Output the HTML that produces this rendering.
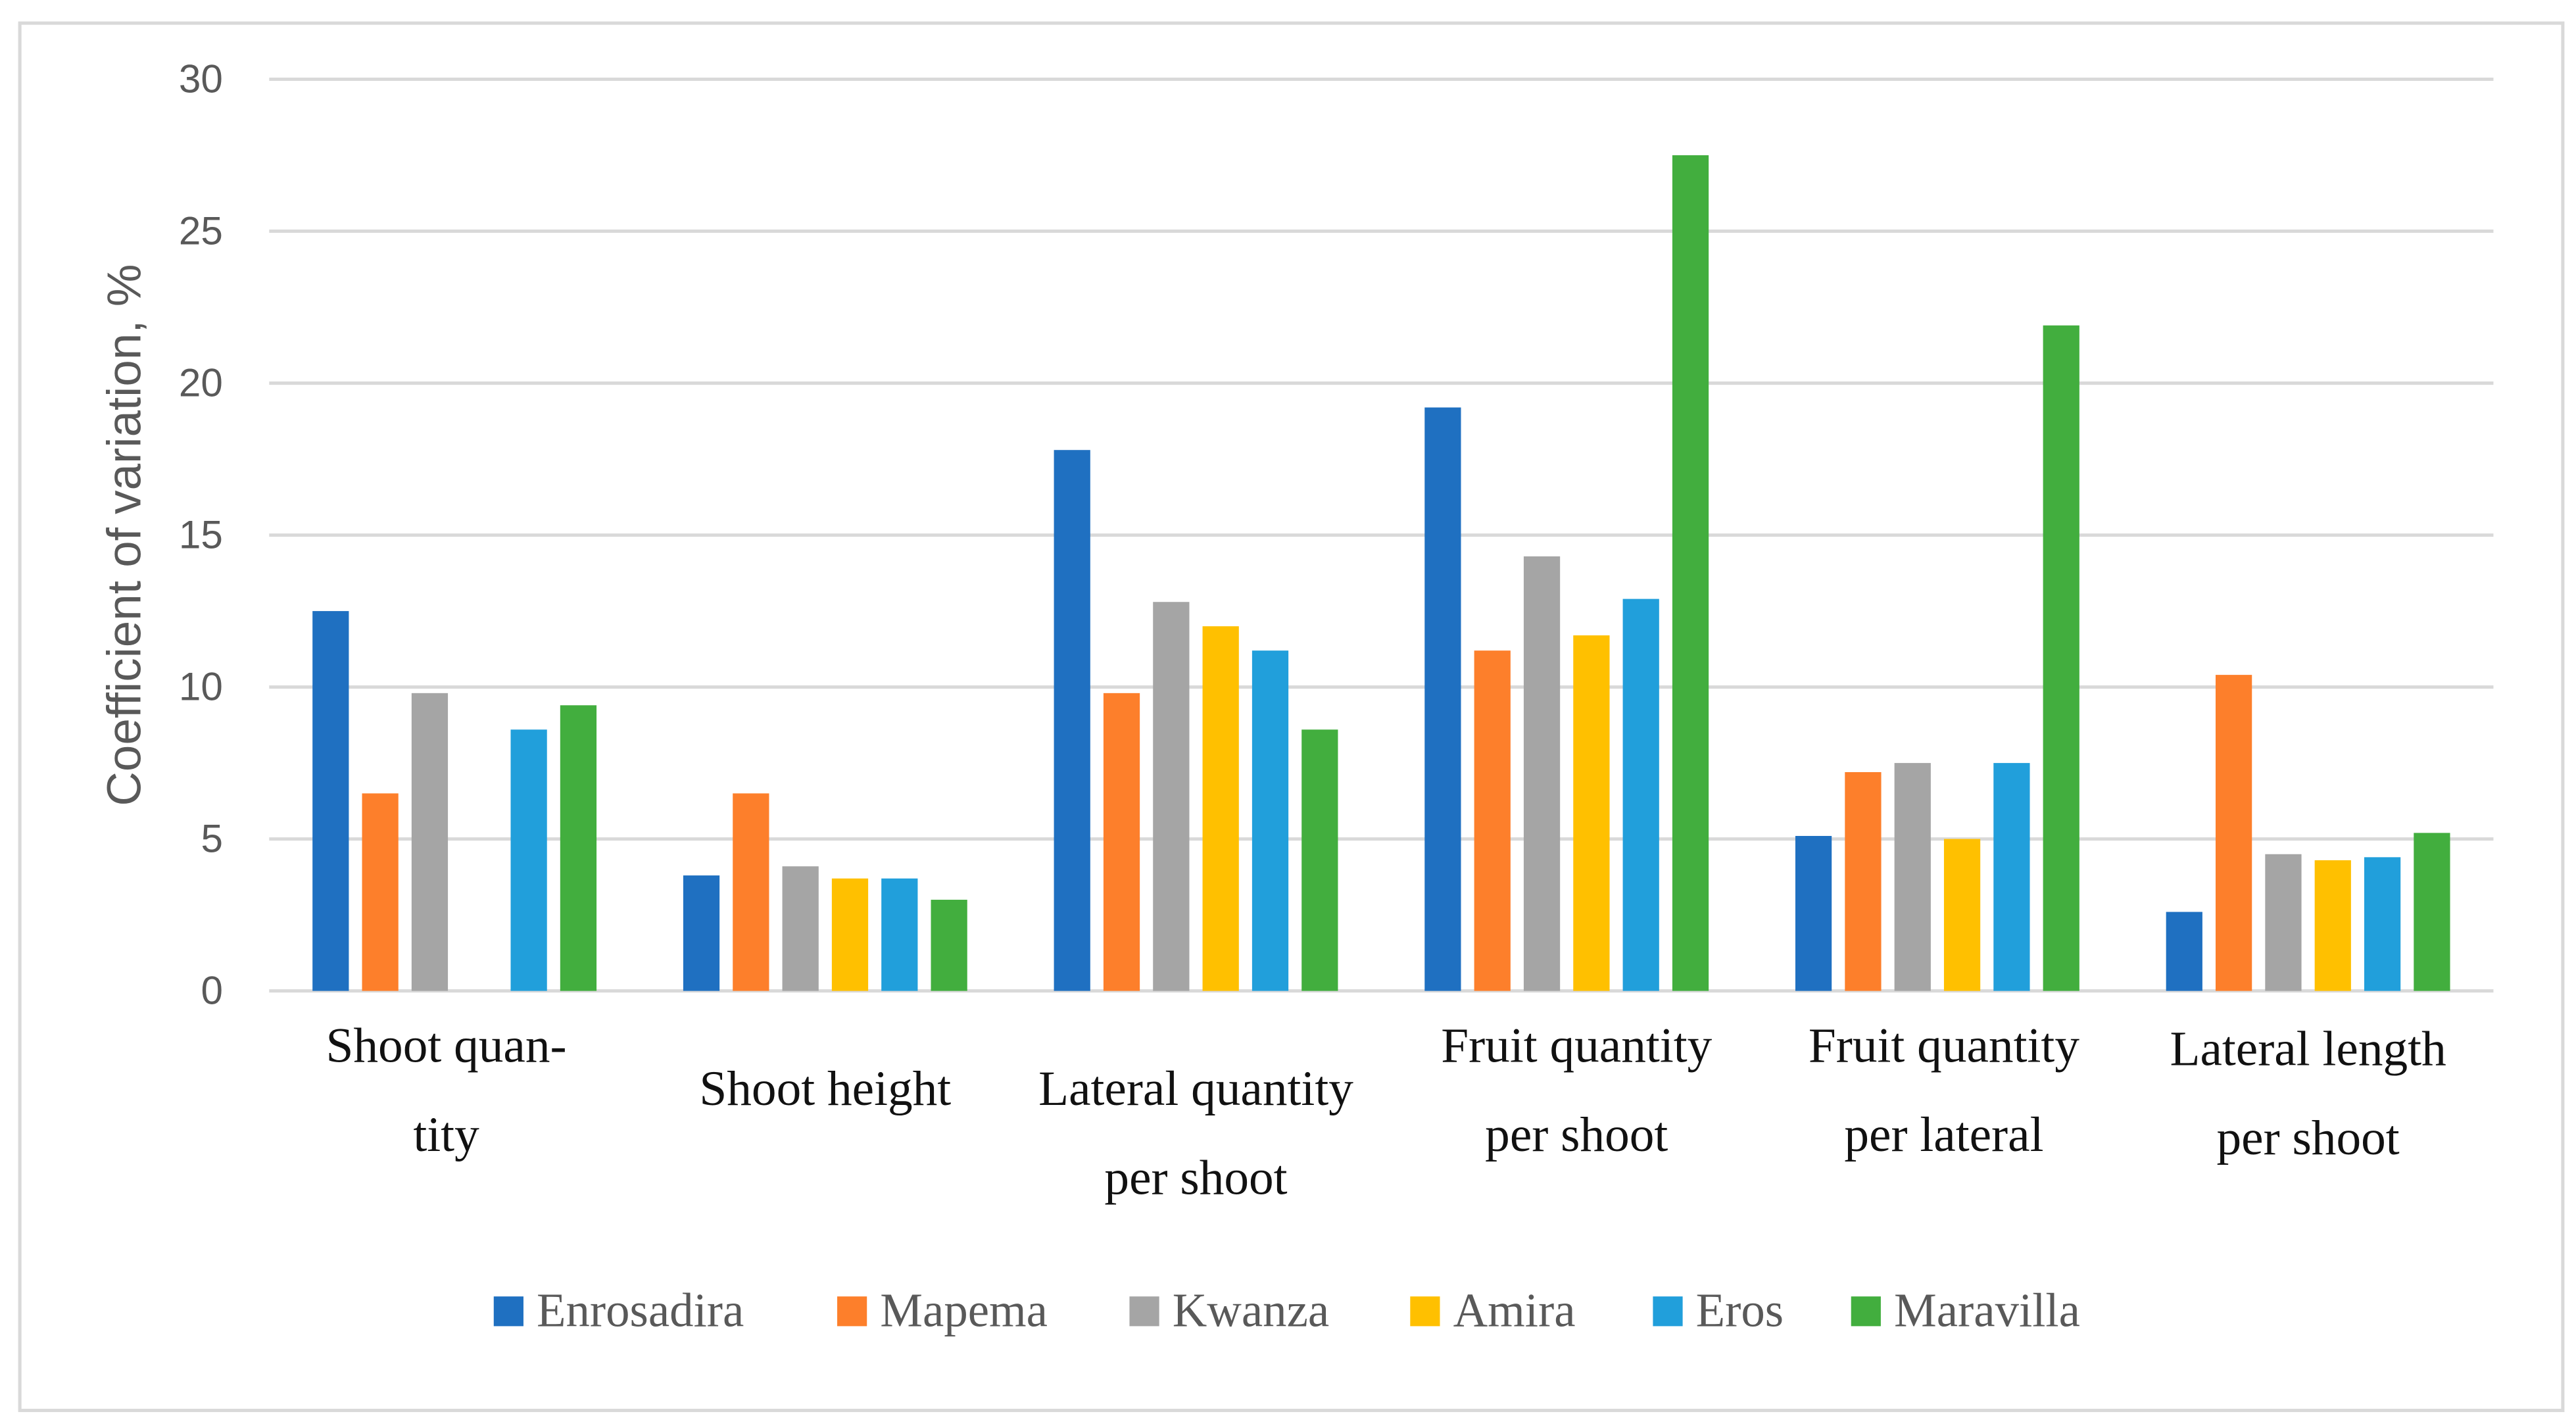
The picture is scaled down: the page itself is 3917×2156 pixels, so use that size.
<!DOCTYPE html>
<html><head><meta charset="utf-8"><style>
html,body{margin:0;padding:0;background:#fff;}
svg{display:block;}
</style></head><body>
<svg width="3917" height="2156" viewBox="0 0 1560 858.6" preserveAspectRatio="none" xmlns="http://www.w3.org/2000/svg">
<rect x="12" y="14" width="1540" height="840" fill="#fff" stroke="#d9d9d9" stroke-width="2"/>
<g id="grid"></g>
<g id="yticks"></g>
<g id="bars"></g>
<g id="cats"></g>
<text x="0" y="0" transform="translate(85,324) rotate(-90)" text-anchor="middle" font-family="Liberation Sans, sans-serif" font-size="29" fill="#595959">Coefficient of variation, %</text>
<g id="legend"></g>
</svg>
<script>
const categories=[["Shoot quan-","tity"],["Shoot height"],["Lateral quantity","per shoot"],["Fruit quantity","per shoot"],["Fruit quantity","per lateral"],["Lateral length","per shoot"]];
const seriesNames=["Enrosadira","Mapema","Kwanza","Amira","Eros","Maravilla"];
const enrosadira=[12.5,3.8,17.8,19.2,5.1,2.6];
const mapema=[6.5,6.5,9.8,11.2,7.2,10.4];
const kwanza=[9.8,4.1,12.8,14.3,7.5,4.5];
const amira=[0,3.7,12.0,11.7,5.0,4.3];
const eros=[8.6,3.7,11.2,12.9,7.5,4.4];
const maravilla=[9.4,3.0,8.6,27.5,21.9,5.2];
const yTicks=[0,5,10,15,20,25,30];
const series=[enrosadira,mapema,kwanza,amira,eros,maravilla];
const colors=["#1f70c1","#fd7f2b","#a5a5a5","#ffc000","#219fdb","#42ae3e"];
const labelTop=[643,669,669,643,643,645];
const labelDx=[-5,0,0,6,4,0];
const NS="http://www.w3.org/2000/svg";
const x0=163,x1=1510,yBase=600,yTop=48,yMax=30;
const y=v=>yBase-(v/yMax)*(yBase-yTop);
const gw=(x1-x0)/categories.length;
const gc=i=>x0+gw*(i+0.5);
function mk(t,a,p){const e=document.createElementNS(NS,t);for(const k in a)e.setAttribute(k,a[k]);p.appendChild(e);return e;}
const grid=document.getElementById('grid'),yt=document.getElementById('yticks');
yTicks.forEach(v=>{
 const l=mk('line',{x1:x0,x2:x1,y1:y(v),y2:y(v),stroke:'#d9d9d9','stroke-width':2},grid);
 
 
 const t=mk('text',{x:135,y:y(v)+8,'text-anchor':'end','font-family':'Liberation Sans, sans-serif','font-size':24,fill:'#595959'},yt);
 t.textContent=v;
 
 
});
const bars=document.getElementById('bars');
const bw=22,step=30;
series.forEach((s,j)=>{s.forEach((v,i)=>{
 const cx=gc(i)+(j-2.5)*step;
 const r=mk('rect',{x:cx-bw/2,y:y(v),width:bw,height:yBase-y(v),fill:colors[j]},bars);
 
 
});});
const cats=document.getElementById('cats');
categories.forEach((c,i)=>{
 c.forEach((ln,k)=>{
  const t=mk('text',{x:gc(i)+labelDx[i],y:labelTop[i]+k*54,'text-anchor':'middle','font-family':'Liberation Serif, serif','font-size':30,fill:'#111'},cats);
  t.textContent=ln;
  
  
 });
});
const lg=document.getElementById('legend');
const lx=[299,507,684,854,1001,1121];
seriesNames.forEach((n,j)=>{
 const r=mk('rect',{x:lx[j],y:785,width:18,height:18,fill:colors[j]},lg);
 
 
 const t=mk('text',{x:lx[j]+26,y:803,'font-family':'Liberation Serif, serif','font-size':29,fill:'#595959'},lg);
 t.textContent=n;
 
 
});
</script>
</body></html>
